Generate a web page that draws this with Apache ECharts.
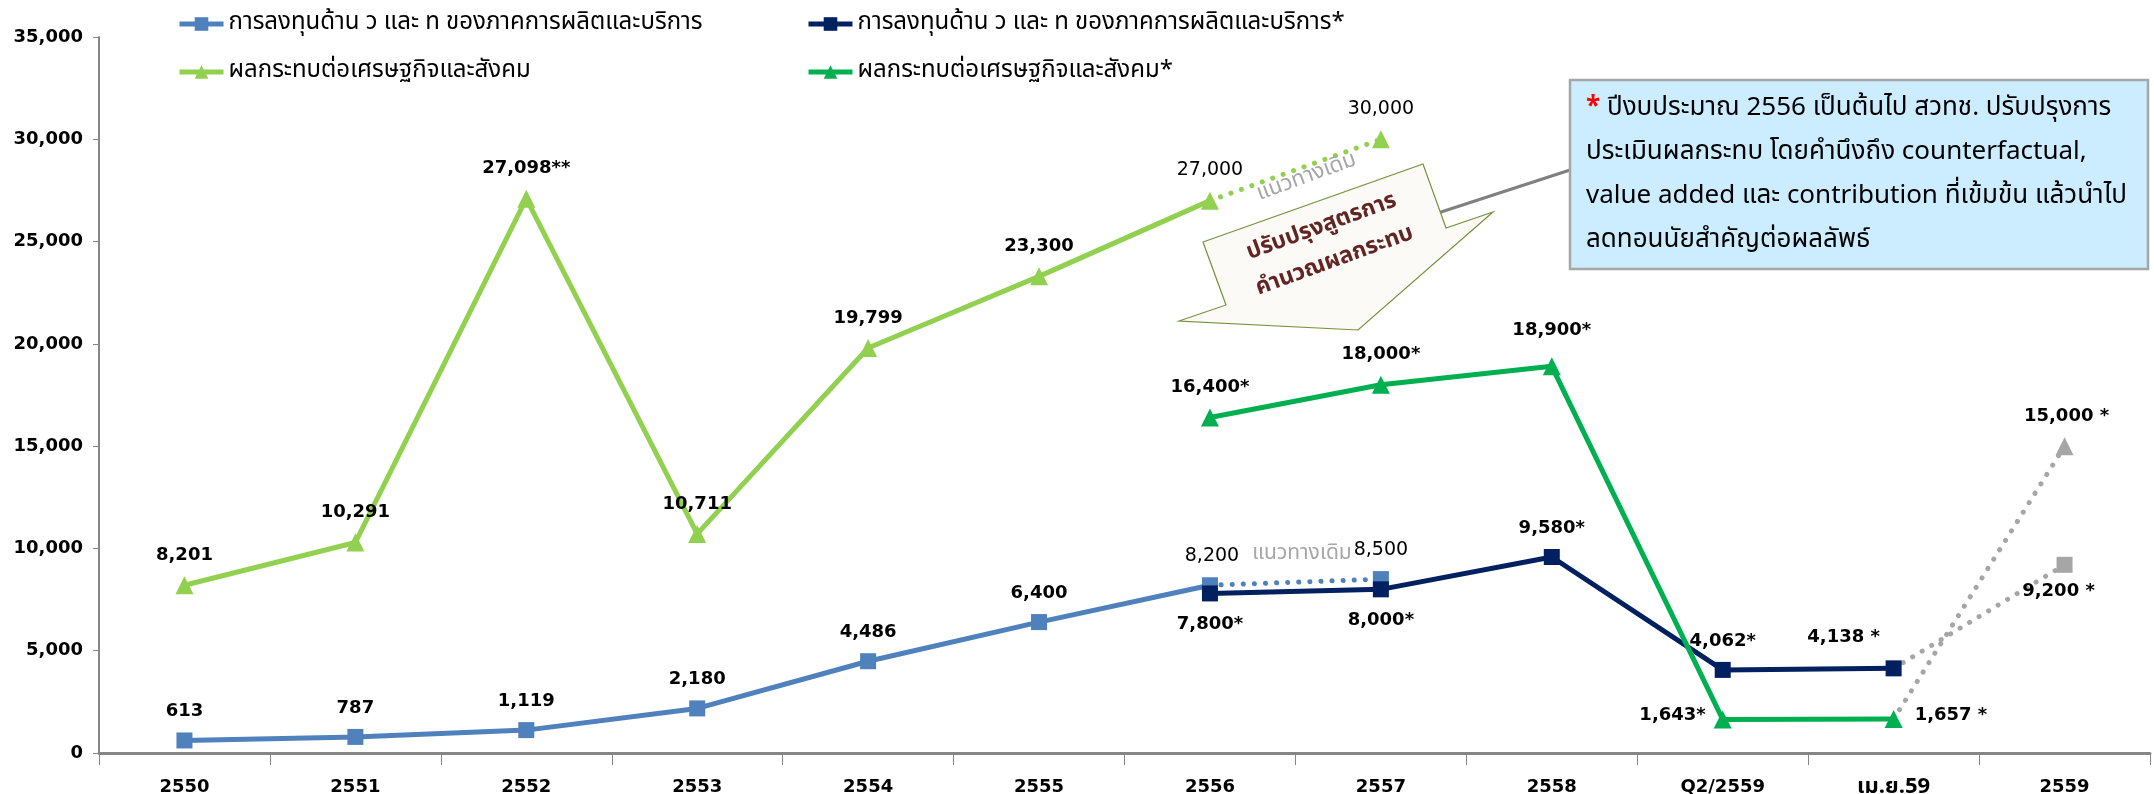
<!DOCTYPE html>
<html>
<head>
<meta charset="utf-8">
<script src="https://cdn.jsdelivr.net/npm/echarts@6/dist/echarts.min.js"></script>
<style>
  html, body { margin: 0; padding: 0; background: #fff; }
  #chart { width: 2154px; height: 794px; }
</style>
</head>
<body>
<div id="chart"></div>
<script>
// categories (x axis)
const categories = ["2550", "2551", "2552", "2553", "2554", "2555", "2556", "2557", "2558", "Q2/2559", "เม.ย.59", "2559"];
const yTicks = [0, 5000, 10000, 15000, 20000, 25000, 30000, 35000];

// R&D investment of production and service sector (old formula)
const investOld = [613, 787, 1119, 2180, 4486, 6400, 8200, null, null, null, null, null];
const investOldTrend = [null, null, null, null, null, null, 8200, 8500, null, null, null, null];
// new formula (*)
const investNew = [null, null, null, null, null, null, 7800, 8000, 9580, 4062, 4138, null];
const investTarget = [null, null, null, null, null, null, null, null, null, null, 4138, 9200];

// economic & social impact (old formula)
const impactOld = [8201, 10291, 27098, 10711, 19799, 23300, 27000, null, null, null, null, null];
const impactOldTrend = [null, null, null, null, null, null, 27000, 30000, null, null, null, null];
// new formula (*)
const impactNew = [null, null, null, null, null, null, 16400, 18000, 18900, 1643, 1657, null];
const impactTarget = [null, null, null, null, null, null, null, null, null, null, 1657, 15000];

// label suffixes
const impactOldMark = ["", "", "**", "", "", "", "", "", "", "", "", ""];
const newMark = ["", "", "", "", "", "", "*", "*", "*", "*", " *", " *"];

const nameA = "การลงทุนด้าน ว และ ท ของภาคการผลิตและบริการ";
const nameB = "การลงทุนด้าน ว และ ท ของภาคการผลิตและบริการ*";
const nameC = "ผลกระทบต่อเศรษฐกิจและสังคม";
const nameD = "ผลกระทบต่อเศรษฐกิจและสังคม*";

const cBlue = "#4F81BD", cNavy = "#002060", cLime = "#92D050", cGreen = "#00B050", cGray = "#A6A6A6";
const numFont = '"DejaVu Sans", sans-serif';
const thaiFont = 'Tahoma, "Noto Sans Thai", "Loma", "Garuda", "DejaVu Sans", sans-serif';

const fmt = (v) => v.toLocaleString("en-US");

// build items; opts maps index -> label overrides
function items(values, marks, opts) {
  return values.map((v, i) => {
    if (v == null) return null;
    const o = (opts && opts[i]) || {};
    const it = { value: v };
    if (o.hide) {
      it.label = { show: false };
      it.symbol = "none";
      return it;
    }
    it.label = Object.assign({ formatter: fmt(v) + (marks ? marks[i] : "") }, o.label || {});
    return it;
  });
}

const baseLabel = {
  show: true,
  position: "top",
  distance: 12,
  fontFamily: numFont,
  fontWeight: "bold",
  fontSize: 18,
  color: "#000"
};
const thinLabel = { fontWeight: "normal", fontSize: 19 };

const chart = echarts.init(document.getElementById("chart"));

const legendText = { fontFamily: thaiFont, fontSize: 24, color: "#000" };
const option = {
  animation: false,
  backgroundColor: "#fff",
  legend: [
    { data: [nameA], left: 177, top: 12 },
    { data: [nameB], left: 806, top: 12 },
    { data: [nameC], left: 177, top: 60 },
    { data: [nameD], left: 806, top: 60 }
  ].map((l) => Object.assign(l, {
    itemWidth: 44, itemHeight: 17, itemGap: 2, padding: 0,
    lineStyle: { width: 5 },
    textStyle: legendText, selectedMode: false
  })),
  grid: { left: 99, right: 4, top: 37, bottom: 41, containLabel: false, outerBoundsMode: "none" },
  xAxis: {
    type: "category",
    data: categories,
    boundaryGap: true,
    axisLine: { lineStyle: { color: "#868686", width: 3 } },
    axisTick: { show: true, length: 12, lineStyle: { color: "#868686", width: 1 } },
    axisLabel: {
      interval: 0,
      margin: 25,
      fontFamily: numFont,
      fontWeight: "bold",
      fontSize: 18,
      color: "#000",
      formatter: (v) => v === "เม.ย.59" ? "{big|" + v + "}" : v,
      rich: { big: { fontFamily: thaiFont, fontWeight: "bold", fontSize: 22, color: "#000" } }
    },
    splitLine: { show: false }
  },
  yAxis: {
    type: "value",
    min: yTicks[0],
    max: yTicks[yTicks.length - 1],
    interval: yTicks[1] - yTicks[0],
    axisLine: { show: true, lineStyle: { color: "#868686", width: 2 } },
    axisTick: { show: true, length: 6, lineStyle: { color: "#868686" } },
    axisLabel: {
      margin: 16,
      fontFamily: numFont,
      fontWeight: "bold",
      fontSize: 18,
      color: "#000",
      formatter: (v) => fmt(v)
    },
    splitLine: { show: false }
  },
  series: [
    {
      name: nameA, type: "line", z: 3,
      symbol: "rect", symbolSize: 16,
      lineStyle: { color: cBlue, width: 5 },
      itemStyle: { color: cBlue },
      label: baseLabel,
      data: items(investOld, null, { 6: { label: Object.assign({ offset: [2, 0] }, thinLabel) } })
    },
    {
      name: "A-trend", type: "line", z: 2,
      symbol: "rect", symbolSize: 16,
      lineStyle: { color: cBlue, width: 5, type: [0.1, 11], cap: "round" },
      itemStyle: { color: cBlue },
      label: baseLabel,
      data: items(investOldTrend, null, { 6: { hide: true }, 7: { label: thinLabel } })
    },
    {
      name: nameB, type: "line", z: 4,
      symbol: "rect", symbolSize: 16,
      lineStyle: { color: cNavy, width: 5 },
      itemStyle: { color: cNavy },
      label: baseLabel,
      data: items(investNew, newMark, {
        6: { label: { position: "bottom", distance: 14 } },
        7: { label: { position: "bottom", distance: 14 } },
        10: { label: { offset: [-50, -2] } }
      })
    },
    {
      name: "B-target", type: "line", z: 2,
      symbol: "rect", symbolSize: 16,
      lineStyle: { color: cGray, width: 5, type: [0.1, 11], cap: "round" },
      itemStyle: { color: cGray },
      label: baseLabel,
      data: items(investTarget, newMark, { 10: { hide: true }, 11: { label: { position: "bottom", distance: 10, offset: [-6, 0] } } })
    },
    {
      name: nameC, type: "line", z: 3,
      symbol: "triangle", symbolSize: 18,
      lineStyle: { color: cLime, width: 5 },
      itemStyle: { color: cLime },
      label: baseLabel,
      data: items(impactOld, impactOldMark, { 6: { label: thinLabel } })
    },
    {
      name: "C-trend", type: "line", z: 2,
      symbol: "triangle", symbolSize: 18,
      lineStyle: { color: cLime, width: 5, type: [0.1, 11], cap: "round" },
      itemStyle: { color: cLime },
      label: baseLabel,
      data: items(impactOldTrend, null, { 6: { hide: true }, 7: { label: thinLabel } })
    },
    {
      name: nameD, type: "line", z: 4,
      symbol: "triangle", symbolSize: 18,
      lineStyle: { color: cGreen, width: 5 },
      itemStyle: { color: cGreen },
      label: baseLabel,
      data: items(impactNew, newMark, {
        8: { label: { distance: 18 } },
        9: { label: { position: "left", distance: 8, offset: [0, -4] } },
        10: { label: { position: "right", distance: 12, offset: [0, -4] } }
      })
    },
    {
      name: "D-target", type: "line", z: 2,
      symbol: "triangle", symbolSize: 18,
      lineStyle: { color: cGray, width: 5, type: [0.1, 11], cap: "round" },
      itemStyle: { color: cGray },
      label: baseLabel,
      data: items(impactTarget, newMark, { 10: { hide: true }, 11: { label: { offset: [2, 0] } } })
    }
  ],
  graphic: [
    // connector from arrow to note box
    { type: "line", z: 1, shape: { x1: 1438, y1: 213, x2: 1570, y2: 170 }, style: { stroke: "#808080", lineWidth: 3 } },
    // block arrow
    {
      type: "polygon", z: 5,
      shape: { points: [[1203, 242], [1423, 164], [1446, 228], [1493, 212], [1358, 330], [1179, 321], [1226, 305]] },
      style: { fill: "#FBFAF6", stroke: "#76923C", lineWidth: 1.2 }
    },
    {
      type: "text", z: 6, x: 1322, y: 228, rotation: 20 * Math.PI / 180,
      style: { text: "ปรับปรุงสูตรการ", fill: "#632523", font: 'bold 23px ' + thaiFont, textAlign: "center", textVerticalAlign: "middle" }
    },
    {
      type: "text", z: 6, x: 1335, y: 262, rotation: 20 * Math.PI / 180,
      style: { text: "คำนวณผลกระทบ", fill: "#632523", font: 'bold 23px ' + thaiFont, textAlign: "center", textVerticalAlign: "middle" }
    },
    // original trend notes
    {
      type: "text", z: 6, x: 1307, y: 178, rotation: 20 * Math.PI / 180,
      style: { text: "แนวทางเดิม", fill: cGray, font: '22px ' + thaiFont, textAlign: "center", textVerticalAlign: "middle" }
    },
    {
      type: "text", z: 6, x: 1302, y: 555,
      style: { text: "แนวทางเดิม", fill: cGray, font: '21px ' + thaiFont, textAlign: "center", textVerticalAlign: "middle" }
    },
    // note box
    {
      type: "rect", z: 5,
      shape: { x: 1570, y: 80, width: 578, height: 189 },
      style: { fill: "#CCECFF", stroke: "#A6A6A6", lineWidth: 2.5 }
    },
    {
      type: "text", z: 6, x: 1586, y: 88,
      style: {
        rich: {
          r: { fill: "#FF0000", font: 'bold 26px ' + thaiFont, lineHeight: 44 },
          t: { fill: "#000", font: '26px ' + thaiFont, lineHeight: 44 }
        },
        text: "{r|*}{t| ปีงบประมาณ 2556 เป็นต้นไป สวทช. ปรับปรุงการ}\n" +
              "{t|ประเมินผลกระทบ โดยคำนึงถึง counterfactual,}\n" +
              "{t|value added และ contribution ที่เข้มข้น แล้วนำไป}\n" +
              "{t|ลดทอนนัยสำคัญต่อผลลัพธ์}"
      }
    }
  ]
};

chart.setOption(option);
</script>
</body>
</html>
